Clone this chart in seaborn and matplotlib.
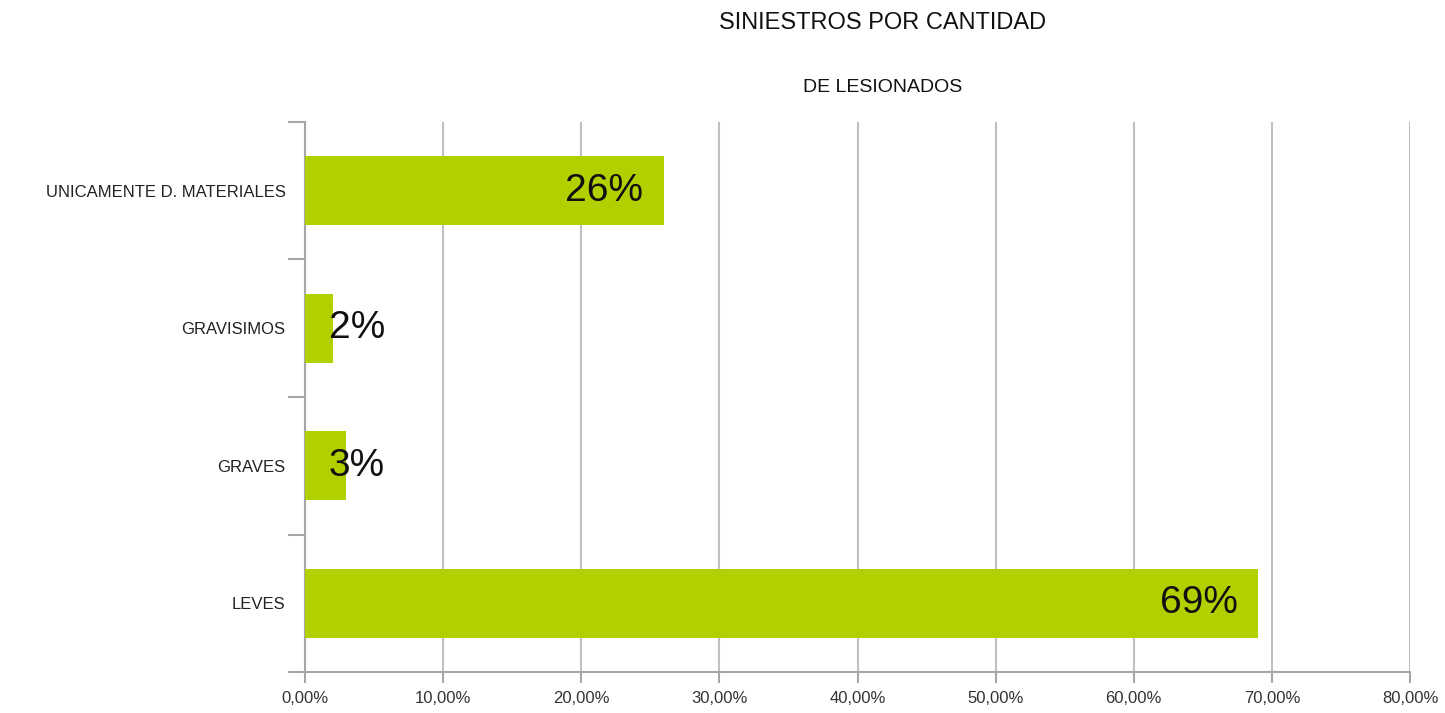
import matplotlib
matplotlib.use("Agg")
import matplotlib.pyplot as plt
import seaborn as sns
import pandas as pd
from matplotlib.ticker import FuncFormatter, FixedLocator

categories = ["UNICAMENTE D. MATERIALES", "GRAVISIMOS", "GRAVES", "LEVES"]
values = [26, 2, 3, 69]
bar_labels = ["26%", "2%", "3%", "69%"]
title_line1 = "SINIESTROS POR CANTIDAD"
title_line2 = "DE LESIONADOS"

sns.set_theme(style="white")
plt.rcParams['font.family'] = ['Liberation Sans', 'DejaVu Sans']

df = pd.DataFrame({"cat": categories, "val": values})

fig = plt.figure(figsize=(14.45, 7.13), dpi=100)
ax = fig.add_axes([0.2111, 0.0575, 0.7647, 0.7714])

sns.barplot(data=df, x="val", y="cat", orient="h", color="#B2D000",
            width=0.5, saturation=1, ax=ax, zorder=3, linewidth=0)

ax.set_xlim(0, 80)
ax.set_ylim(3.5, -0.5)
ax.set_xticks(range(0, 81, 10))
ax.xaxis.set_major_formatter(FuncFormatter(lambda v, p: f"{v:.2f}".replace(".", ",") + "%"))
ax.grid(axis="x", color="#C0C0C0", linewidth=1.5, zorder=0)
ax.set_axisbelow(True)
ax.set_xlabel("")
ax.set_ylabel("")

for s in ["top", "right"]:
    ax.spines[s].set_visible(False)
for s in ["left", "bottom"]:
    ax.spines[s].set_color("#A6A6A6")
    ax.spines[s].set_linewidth(1.5)

ax.tick_params(axis="x", which="major", length=8, width=1.5, color="#A6A6A6",
               labelsize=12, labelcolor="#333333", pad=6, bottom=True)
ax.tick_params(axis="y", which="major", length=0, labelsize=12,
               labelcolor="#222222", pad=14)
ax.yaxis.set_minor_locator(FixedLocator([-0.5, 0.5, 1.5, 2.5, 3.5]))
ax.tick_params(axis="y", which="minor", length=12, width=1.5, color="#A6A6A6", left=True)

for i, (v, lab) in enumerate(zip(values, bar_labels)):
    if v >= 10:
        ax.text(v - 1.5, i, lab, ha="right", va="center", fontsize=28,
                color="#111111", zorder=4)
    else:
        ax.text(1.7, i, lab, ha="left", va="center", fontsize=28,
                color="#111111", zorder=4)

fig.text(0.611, 1 - 23 / 713, title_line1, ha="center", va="center",
         fontsize=17, color="#111111")
fig.text(0.611, 1 - 87 / 713, title_line2, ha="center", va="center",
         fontsize=14, color="#111111")

fig.savefig("out.png", dpi=100)
